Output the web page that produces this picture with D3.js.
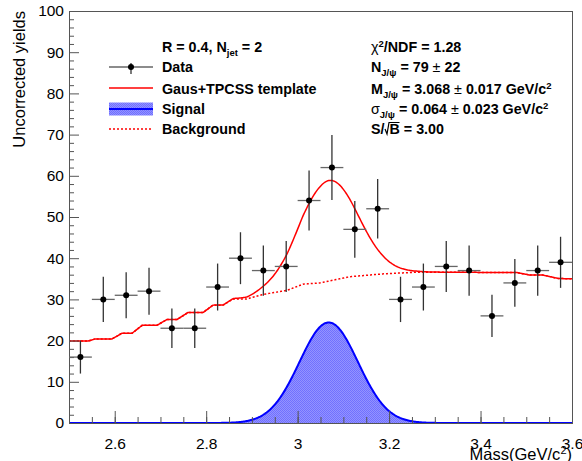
<!DOCTYPE html>
<html>
<head>
<meta charset="utf-8">
<script src="https://d3js.org/d3.v7.min.js"></script>
<style>
body {margin: 0; background: #fff;}
text {font-family: "Liberation Sans", Arial, Helvetica, sans-serif;}
</style>
</head>
<body>
<div id="chart"></div>
<script>
// bin centres (GeV/c^2), counts and errors
var massBins = [2.525, 2.575, 2.625, 2.675, 2.725, 2.775, 2.825, 2.875, 2.925, 2.975, 3.025,
	3.075, 3.125, 3.175, 3.225, 3.275, 3.325, 3.375, 3.425, 3.475, 3.525, 3.575];
var counts = [16, 30, 31, 32, 23, 23, 33, 40, 37, 38, 54, 62, 47, 52, 30, 33, 38, 37, 26, 34, 37, 39];
var countErr = [4.0, 5.5, 5.6, 5.7, 4.8, 4.8, 5.7, 6.3, 6.1, 6.2, 7.3, 7.9, 6.9, 7.2, 5.5, 5.7, 6.2, 6.1, 5.1, 5.8, 6.1, 6.2];
var binHalfWidth = 0.025;

// background template (dotted curve), knots
var bkgMass = [2.500, 2.542, 2.557, 2.594, 2.616, 2.638, 2.660, 2.692, 2.714, 2.736, 2.760, 2.793,
	2.815, 2.837, 2.859, 2.889, 2.924, 2.977, 3.012, 3.049, 3.114, 3.187, 3.261, 3.333, 3.480,
	3.508, 3.537, 3.569, 3.591, 3.600];
var bkgYield = [19.9, 19.9, 20.4, 20.4, 21.8, 21.8, 23.7, 23.7, 25.1, 25.1, 26.8, 26.8,
	28.6, 28.6, 30.1, 30.1, 31.2, 32.2, 33.7, 34.0, 35.5, 36.2, 36.6, 36.6, 36.5,
	35.9, 35.9, 35.1, 35.0, 35.0];

// gaussian signal from the fit
var sigMean = 3.068, sigSigma = 0.064, sigPeak = 24.4;

var xTicks = [2.6, 2.8, 3.0, 3.2, 3.4, 3.6];
var xTickLabels = ["2.6", "2.8", "3", "3.2", "3.4", "3.6"];
var yTicks = [0, 10, 20, 30, 40, 50, 60, 70, 80, 90, 100];

var width = 582;
var height = 461;
var xLeft = 69, xRight = 572, yTop = 11, yBottom = 423;

var svg = d3.select("#chart").append("svg")
	.attr("width", width)
	.attr("height", height);

var x = d3.scaleLinear().domain([2.5, 3.6]).range([xLeft, xRight]);
var y = d3.scaleLinear().domain([0, 100]).range([yBottom, yTop]);
var bkg = d3.scaleLinear().domain(bkgMass).range(bkgYield);

function gaus(m) {
	return sigPeak * Math.exp(-(m - sigMean) * (m - sigMean) / (2 * sigSigma * sigSigma));
}

var defs = svg.append("defs");
var pat = defs.append("pattern")
	.attr("id", "hatch")
	.attr("patternUnits", "userSpaceOnUse")
	.attr("width", 2)
	.attr("height", 2);
pat.append("rect").attr("width", 2).attr("height", 2).attr("fill", "#9393ff");
pat.append("rect").attr("width", 1).attr("height", 1).attr("fill", "#7070ff");
pat.append("rect").attr("x", 1).attr("y", 1).attr("width", 1).attr("height", 1).attr("fill", "#7070ff");

defs.append("clipPath").attr("id", "frame")
	.append("rect")
	.attr("x", xLeft).attr("y", yTop - 2)
	.attr("width", xRight - xLeft).attr("height", yBottom - yTop + 4);

var grid = d3.range(2.5, 3.6001, 0.002);

var plot = svg.append("g").attr("clip-path", "url(#frame)");

// signal fill
plot.append("path")
	.datum(grid)
	.attr("fill", "url(#hatch)")
	.attr("stroke", "none")
	.attr("d", d3.area()
		.x(function(d) { return x(d); })
		.y0(y(0))
		.y1(function(d) { return y(gaus(d)); }));

// axes
var yMinor = d3.range(0, 101, 2).filter(function(d) { return d % 10 != 0; });
var xMinor = d3.range(0, 23).map(function(i) { return 2.5 + i * 0.05; });

svg.append("g")
	.attr("transform", "translate(" + xLeft + ",0)")
	.call(d3.axisLeft(y).tickValues(yMinor).tickSize(-5).tickFormat(""));
svg.append("g")
	.attr("class", "ymajor")
	.attr("transform", "translate(" + xLeft + ",0)")
	.call(d3.axisLeft(y).tickValues(yTicks).tickSize(-10).tickPadding(5).tickFormat(d3.format("d")));
svg.append("g")
	.attr("transform", "translate(0," + yBottom + ")")
	.call(d3.axisBottom(x).tickValues(xMinor).tickSize(-6).tickFormat(""));
svg.append("g")
	.attr("class", "xmajor")
	.attr("transform", "translate(0," + yBottom + ")")
	.call(d3.axisBottom(x).tickValues(xTicks).tickSize(-12).tickPadding(15)
		.tickFormat(function(d, i) { return xTickLabels[i]; }));

svg.selectAll(".domain").remove();
svg.selectAll(".tick line").attr("stroke", "#555");
svg.selectAll(".tick text")
	.attr("fill", "#000")
	.style("font-size", "15.5px")
	.style("font-family", "'Liberation Sans', Arial, sans-serif");

svg.append("rect")
	.attr("x", xLeft + 0.5)
	.attr("y", yTop + 0.5)
	.attr("width", xRight - xLeft)
	.attr("height", yBottom - yTop)
	.attr("fill", "none")
	.attr("stroke", "#555")
	.attr("stroke-width", 1);

// signal line
plot.append("path")
	.datum(grid)
	.attr("fill", "none")
	.attr("stroke", "#0000ff")
	.attr("stroke-width", 2)
	.attr("d", d3.line()
		.x(function(d) { return x(d); })
		.y(function(d) { return y(gaus(d)); }));

// background
plot.append("path")
	.datum(grid)
	.attr("fill", "none")
	.attr("stroke", "#ff0000")
	.attr("stroke-width", 1.5)
	.attr("stroke-dasharray", "2,2")
	.attr("d", d3.line()
		.x(function(d) { return x(d); })
		.y(function(d) { return y(bkg(d)); }));

// total
plot.append("path")
	.datum(grid)
	.attr("fill", "none")
	.attr("stroke", "#ff0000")
	.attr("stroke-width", 1.5)
	.attr("d", d3.line()
		.x(function(d) { return x(d); })
		.y(function(d) { return y(bkg(d) + gaus(d)); }));

// data points
var pts = svg.append("g");
massBins.forEach(function(m, i) {
	pts.append("line")
		.attr("x1", x(m - binHalfWidth)).attr("x2", x(m + binHalfWidth))
		.attr("y1", y(counts[i])).attr("y2", y(counts[i]))
		.attr("stroke", "#666").attr("stroke-width", 1.3);
	pts.append("line")
		.attr("x1", x(m)).attr("x2", x(m))
		.attr("y1", y(counts[i] - countErr[i])).attr("y2", y(counts[i] + countErr[i]))
		.attr("stroke", "#333").attr("stroke-width", 1.3);
	pts.append("circle")
		.attr("cx", x(m)).attr("cy", y(counts[i]))
		.attr("r", 3)
		.attr("fill", "#000");
});

// axis titles
svg.append("text")
	.attr("transform", "translate(24.5," + yTop + ") rotate(-90)")
	.attr("text-anchor", "end")
	.style("font-size", "16.5px")
	.text("Uncorrected yields");

var xt = svg.append("text")
	.attr("x", xRight)
	.attr("y", 460)
	.attr("text-anchor", "end")
	.style("font-size", "16.5px");
xt.append("tspan").text("Mass(GeV/c");
xt.append("tspan").attr("dy", -6).style("font-size", "11px").text("2");
xt.append("tspan").attr("dy", 6).text(")");

// rich text helper: parts are [text, kind] with kind "", "sub", "sup", "thin"
function richText(px, py, parts) {
	var t = svg.append("text")
		.attr("x", px).attr("y", py)
		.style("font-size", "14.3px")
		.style("font-weight", "bold");
	var shift = 0;
	parts.forEach(function(p) {
		var s = t.append("tspan").text(p[0]);
		var want = 0;
		if (p[1] == "sub") { want = 4; s.style("font-size", "9.5px"); }
		if (p[1] == "sup") { want = -5; s.style("font-size", "9.5px"); }
		if (p[1] == "thin") { s.style("font-weight", "normal"); }
		s.attr("dy", want - shift);
		shift = want;
	});
	return t;
}

// legend, left column
var lx1 = 109, lx2 = 153;
richText(162, 52.3, [["R = 0.4, N", ""], ["jet", "sub"], [" = 2", ""]]);

richText(162, 72.3, [["Data", ""]]);
svg.append("line").attr("x1", lx1).attr("x2", lx2).attr("y1", 67).attr("y2", 67)
	.attr("stroke", "#666").attr("stroke-width", 1.3);
svg.append("line").attr("x1", 131).attr("x2", 131).attr("y1", 63).attr("y2", 74)
	.attr("stroke", "#333").attr("stroke-width", 1.3);
svg.append("circle").attr("cx", 131).attr("cy", 67).attr("r", 3).attr("fill", "#000");

richText(162, 94, [["Gaus+TPCSS template", ""]]);
svg.append("line").attr("x1", lx1).attr("x2", lx2).attr("y1", 88).attr("y2", 88)
	.attr("stroke", "#ff0000").attr("stroke-width", 1.5);

richText(162, 114, [["Signal", ""]]);
svg.append("rect").attr("x", lx1).attr("y", 102.5).attr("width", lx2 - lx1).attr("height", 13)
	.attr("fill", "url(#hatch)");
svg.append("line").attr("x1", lx1).attr("x2", lx2).attr("y1", 109).attr("y2", 109)
	.attr("stroke", "#0000ff").attr("stroke-width", 2);

richText(162, 134, [["Background", ""]]);
svg.append("line").attr("x1", lx1).attr("x2", lx2).attr("y1", 129).attr("y2", 129)
	.attr("stroke", "#ff0000").attr("stroke-width", 1.5).attr("stroke-dasharray", "2,2");

// fit results, right column
var rx = 371;
richText(rx, 52.3, [["\u03c7", "thin"], ["2", "sup"], ["/NDF = 1.28", ""]]);
richText(rx, 72.3, [["N", ""], ["J/\u03c8", "sub"], [" = 79 ", ""], ["\u00b1", "thin"], [" 22", ""]]);
richText(rx, 94, [["M", ""], ["J/\u03c8", "sub"], [" = 3.068 ", ""], ["\u00b1", "thin"], [" 0.017 GeV/c", ""], ["2", "sup"]]);
richText(rx, 114, [["\u03c3", "thin"], ["J/\u03c8", "sub"], [" = 0.064 ", ""], ["\u00b1", "thin"], [" 0.023 GeV/c", ""], ["2", "sup"]]);

var sb = richText(rx, 134, [["S/", ""]]);
var sbw = sb.node().getComputedTextLength();
svg.append("path")
	.attr("d", "M" + (rx + sbw + 0.5) + ",129 L" + (rx + sbw + 2.5) + ",134 L" + (rx + sbw + 4.5) + ",122.5 L" + (rx + sbw + 15) + ",122.5")
	.attr("fill", "none").attr("stroke", "#000").attr("stroke-width", 1.2);
richText(rx + sbw + 5, 134, [["B = 3.00", ""]]);
</script>
</body>
</html>
